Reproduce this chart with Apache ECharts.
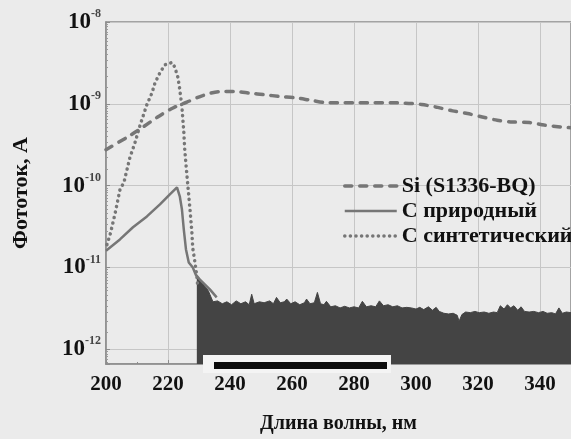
<!DOCTYPE html>
<html>
<head>
<meta charset="utf-8">
<script src="https://cdn.jsdelivr.net/npm/echarts@6/dist/echarts.min.js"></script>
<style>
  html, body { margin: 0; padding: 0; background: #ebebeb; }
  #container { width: 571px; height: 439px; }
</style>
</head>
<body>
<div id="container"></div>
<script>
// Si (S1336-BQ), dashed
var siNm  = [200, 206.8, 211.6, 216.4, 221.6, 226.1, 231.2, 236.7, 241.5, 246.4, 251.2, 256.0, 261.5, 266.3, 271.5, 276.3, 281.2, 286.0, 291.5, 296.3, 301.8, 306.6, 311.8, 316.6, 321.4, 326.2, 331.1, 336.6, 341.4, 346.9, 350];
var siVal = [2.75e-10, 3.9e-10, 5.1e-10, 6.8e-10, 8.9e-10, 1.05e-9, 1.26e-9, 1.41e-9, 1.41e-9, 1.35e-9, 1.29e-9, 1.23e-9, 1.18e-9, 1.10e-9, 1.03e-9, 1.03e-9, 1.03e-9, 1.03e-9, 1.03e-9, 1.02e-9, 9.8e-10, 9.1e-10, 8.2e-10, 7.6e-10, 6.9e-10, 6.3e-10, 6.0e-10, 5.9e-10, 5.5e-10, 5.2e-10, 5.1e-10];

// C природный, solid
var natNm  = [200, 204.5, 208.7, 213.2, 217.4, 220.6, 222.9, 223.8, 224.5, 225.1, 225.8, 226.7, 228.0, 229.0, 230.3, 233.5, 235.7];
var natVal = [1.6e-11, 2.2e-11, 3.1e-11, 4.2e-11, 5.9e-11, 7.8e-11, 9.5e-11, 7.4e-11, 5.1e-11, 2.9e-11, 1.66e-11, 1.15e-11, 1.0e-11, 8.1e-12, 7.1e-12, 5.4e-12, 4.3e-12];

// C синтетический, dotted
var synNm  = [200.3, 201.3, 202.9, 204.5, 205.8, 207.7, 209.3, 211.0, 213.2, 214.8, 215.8, 217.4, 219.0, 221.3, 222.2, 223.2, 223.8, 224.5, 225.1, 225.4, 226.1, 227.1, 227.7, 228.0, 228.7, 229.3, 229.6];
var synVal = [1.9e-11, 2.5e-11, 4.5e-11, 8.9e-11, 1.1e-10, 2.2e-10, 3.3e-10, 5.5e-10, 9.8e-10, 1.35e-9, 1.8e-9, 2.4e-9, 3.0e-9, 3.2e-9, 2.8e-9, 2.1e-9, 1.5e-9, 9.1e-10, 4.5e-10, 2.75e-10, 1.35e-10, 5.1e-11, 2.7e-11, 1.7e-11, 1.15e-11, 7.8e-12, 5.9e-12];

// noise floor of both C detectors (upper edge of the dark band)
var noiseNm  = [229.3, 231, 233, 234.5, 236, 237.5, 239, 240.5, 242, 243.5, 245, 246.2, 247, 247.8, 249.5, 251, 252.8, 254, 255, 256.2, 257.5, 258.3, 259.6, 261, 262.5, 264, 264.7, 265.8, 267.2, 268.2, 269.2, 270.3, 271.1, 272.5, 274, 275.5, 277, 278.5, 280, 281.5, 282.7, 284, 285.5, 287, 288.2, 289.5, 291, 292.5, 294, 295.5, 297, 298.5, 300, 301.2, 302.5, 304, 305.3, 306.5, 307.5, 309, 310.5, 312, 313.3, 313.9, 314.8, 316, 317.5, 319, 320.4, 322, 323.5, 325, 326.2, 327.2, 328.4, 329.5, 330.5, 331.6, 332.8, 333.9, 335, 336.5, 338, 339.5, 341, 342.3, 343.8, 345, 346.1, 347.2, 348.5, 350];
var noiseVal = [7.8e-12, 6.5e-12, 5.2e-12, 3.8e-12, 3.9e-12, 3.6e-12, 3.8e-12, 3.5e-12, 3.9e-12, 3.6e-12, 3.8e-12, 3.5e-12, 4.7e-12, 3.6e-12, 3.8e-12, 3.7e-12, 3.9e-12, 3.6e-12, 4.3e-12, 3.7e-12, 3.8e-12, 4.1e-12, 3.6e-12, 3.8e-12, 3.5e-12, 3.7e-12, 4.1e-12, 3.6e-12, 3.7e-12, 4.95e-12, 3.6e-12, 3.5e-12, 3.85e-12, 3.3e-12, 3.4e-12, 3.2e-12, 3.35e-12, 3.2e-12, 3.3e-12, 3.2e-12, 3.85e-12, 3.3e-12, 3.4e-12, 3.3e-12, 3.9e-12, 3.4e-12, 3.5e-12, 3.3e-12, 3.4e-12, 3.2e-12, 3.25e-12, 3.2e-12, 3.1e-12, 3.25e-12, 3.05e-12, 3.3e-12, 3.0e-12, 3.25e-12, 2.9e-12, 2.75e-12, 2.7e-12, 2.75e-12, 2.6e-12, 2.2e-12, 2.65e-12, 2.85e-12, 2.8e-12, 2.9e-12, 2.8e-12, 2.85e-12, 2.75e-12, 2.85e-12, 2.8e-12, 3.4e-12, 3.1e-12, 3.5e-12, 3.2e-12, 3.4e-12, 3.0e-12, 3.3e-12, 2.9e-12, 2.85e-12, 2.9e-12, 2.8e-12, 2.9e-12, 2.75e-12, 2.8e-12, 2.7e-12, 3.2e-12, 2.75e-12, 2.85e-12, 2.8e-12];

var names = ['Si (S1336-BQ)', 'C природный', 'C синтетический'];
var xTicks = [200, 220, 240, 260, 280, 300, 320, 340];

var zip = function (xs, ys) {
    return xs.map(function (x, i) { return [x, ys[i]]; });
};

var serif = 'Liberation Serif';
var lineColor = '#767676';

var dom = document.getElementById('container');
var myChart = echarts.init(dom, null, { renderer: 'canvas' });

var option = {
    backgroundColor: '#ebebeb',
    animation: false,
    grid: {
        left: 106, right: 0, top: 22, bottom: 74,
        show: true, borderColor: '#8c8c8c', borderWidth: 1.5
    },
    legend: {
        data: names,
        orient: 'vertical',
        left: 338, top: 170,
        itemWidth: 52, itemHeight: 14, itemGap: 3,
        itemStyle: { opacity: 0 },
        lineStyle: { width: 'inherit' },
        textStyle: { fontFamily: serif, fontWeight: 'bold', fontSize: 22, color: '#111' }
    },
    xAxis: {
        type: 'value',
        min: 200, max: 350, interval: 20,
        name: 'Длина волны, нм',
        nameLocation: 'middle', nameGap: 50,
        nameTextStyle: { fontFamily: serif, fontWeight: 'bold', fontSize: 20, color: '#111' },
        axisLine: { lineStyle: { color: '#8c8c8c', width: 1.5 } },
        axisTick: { show: true, inside: true, length: 4, lineStyle: { color: '#8c8c8c' } },
        minorTick: { show: true, splitNumber: 2, length: 2, lineStyle: { color: '#8c8c8c' } },
        axisLabel: {
            margin: 10, showMaxLabel: false,
            fontFamily: serif, fontWeight: 'bold', fontSize: 21, color: '#111',
            formatter: function (v) { return xTicks.indexOf(v) >= 0 ? String(v) : ''; }
        },
        splitLine: { show: true, lineStyle: { color: '#c6c6c6', width: 1 } }
    },
    yAxis: {
        type: 'log',
        min: 6.6e-13, max: 1e-8,
        name: 'Фототок, А',
        nameLocation: 'middle', nameGap: 74, nameRotate: 90,
        nameTextStyle: { fontFamily: serif, fontWeight: 'bold', fontSize: 22, color: '#111' },
        axisLine: { show: true, lineStyle: { color: '#8c8c8c', width: 1.5 } },
        axisTick: { show: true, inside: true, length: 4, lineStyle: { color: '#8c8c8c' } },
        minorTick: { show: true, splitNumber: 15, length: 2, lineStyle: { color: '#9a9a9a' } },
        axisLabel: {
            margin: 5, showMinLabel: false,
            formatter: function (v) {
                var e = Math.log10(v);
                if (Math.abs(e - Math.round(e)) > 0.01) return '';
                return '{b|10}{s|' + Math.round(e) + '}';
            },
            rich: {
                b: { fontFamily: serif, fontWeight: 'bold', fontSize: 23, color: '#111' },
                s: { fontFamily: serif, fontWeight: 'bold', fontSize: 12, color: '#444', padding: [0, 0, 16, 0] }
            }
        },
        splitLine: { show: true, lineStyle: { color: '#c6c6c6', width: 1 } }
    },
    series: [
        {
            name: 'noise', type: 'line', data: zip(noiseNm, noiseVal),
            symbol: 'none', z: 1,
            lineStyle: { color: '#444', width: 1 },
            areaStyle: { color: '#444', opacity: 1, origin: 'start' }
        },
        {
            name: names[0], type: 'line', data: zip(siNm, siVal),
            symbol: 'none', smooth: 0.3, z: 3,
            lineStyle: { color: lineColor, width: 3.5, type: [7, 8], cap: 'round' },
            itemStyle: { color: lineColor }
        },
        {
            name: names[1], type: 'line', data: zip(natNm, natVal),
            symbol: 'none', z: 3,
            lineStyle: { color: lineColor, width: 2.5 },
            itemStyle: { color: lineColor }
        },
        {
            name: names[2], type: 'line', data: zip(synNm, synVal),
            symbol: 'none', z: 3,
            lineStyle: { color: lineColor, width: 3.5, type: [0.1, 5.5], cap: 'round' },
            itemStyle: { color: lineColor }
        }
    ],
    graphic: [
        { type: 'rect', shape: { x: 203, y: 355, width: 188, height: 18 }, style: { fill: '#f4f4f4' }, z: 100 },
        { type: 'rect', shape: { x: 214, y: 362, width: 173, height: 7 }, style: { fill: '#0c0c0c' }, z: 101 }
    ]
};

if (option && typeof option === 'object') {
    myChart.setOption(option, true);
}
</script>
</body>
</html>
